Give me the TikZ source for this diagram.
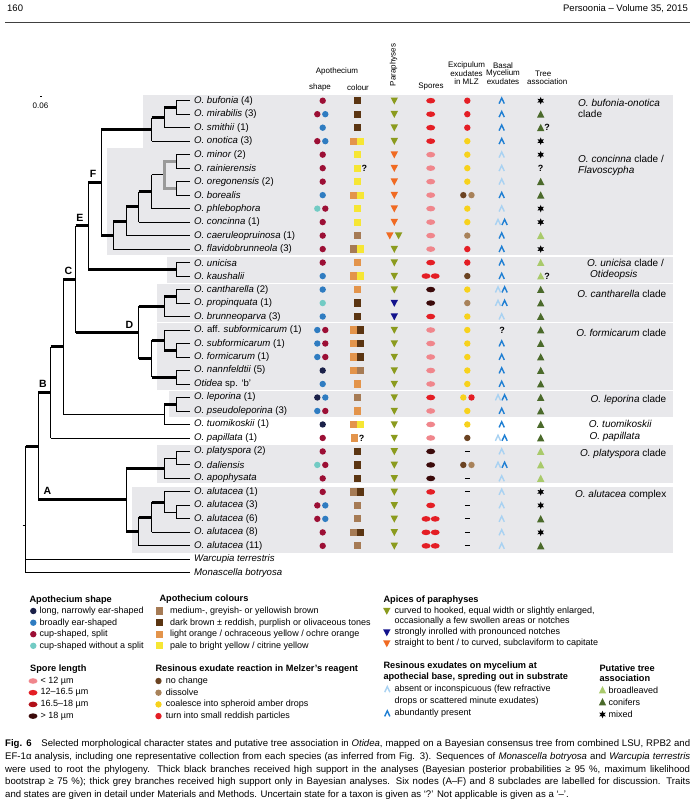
\documentclass[tikz,border=0pt]{standalone}
\usepackage{fontspec}
\setmainfont{Liberation Sans}
\usetikzlibrary{shapes.geometric}
\definecolor{bandc}{HTML}{E8E8EB}
\definecolor{cC}{HTML}{9C0F35}
\definecolor{cB}{HTML}{2F7CC1}
\definecolor{cN}{HTML}{1B2149}
\definecolor{cT}{HTML}{72CBC4}
\definecolor{kM}{HTML}{A67B55}
\definecolor{kD}{HTML}{5B3512}
\definecolor{kL}{HTML}{E3944B}
\definecolor{kY}{HTML}{F6E634}
\definecolor{pO}{HTML}{8B9B1E}
\definecolor{pN}{HTML}{12128C}
\definecolor{pR}{HTML}{F06A22}
\definecolor{sP}{HTML}{F0868C}
\definecolor{sR}{HTML}{E41E25}
\definecolor{sD}{HTML}{B21019}
\definecolor{sK}{HTML}{3B0A0A}
\definecolor{eN}{HTML}{6B4322}
\definecolor{eD}{HTML}{A8825A}
\definecolor{eY}{HTML}{F7D21C}
\definecolor{eR}{HTML}{E41E25}
\definecolor{bL}{HTML}{A9D2F2}
\definecolor{bD}{HTML}{1F7FD3}
\definecolor{tL}{HTML}{A9CA6B}
\definecolor{tD}{HTML}{4B6A2B}
\definecolor{brG}{HTML}{9A9A9A}
\newcommand\SetRow[1]{\pgfmathsetmacro\Y{100.7+13.49*(#1)}}
\newcommand\DotAt[3]{\fill[#3] (#1,#2) circle (3.2);}
\newcommand\SqAt[3]{\fill[#3] ({#1-3.6},{#2-3.6}) rectangle ({#1+3.6},{#2+3.6});}
\newcommand\TriDn[3]{\fill[#3] ({#1-3.7},{#2-3.2}) -- ({#1+3.7},{#2-3.2}) -- (#1,{#2+3.8}) -- cycle;}
\newcommand\TriUp[3]{\fill[#3] ({#1-3.7},{#2+3.4}) -- ({#1+3.7},{#2+3.4}) -- (#1,{#2-3.8}) -- cycle;}
\newcommand\EllAt[3]{\fill[#3] (#1,#2) ellipse [x radius=4.5, y radius=2.8];}
\newcommand\ChevAt[3]{\draw[#3, line width=1.4pt] ({#1-2.6},{#2+2.9}) -- (#1,{#2-2.7}) -- ({#1+2.6},{#2+2.9});}
\newcommand\StarAt[2]{\node[star, star points=6, star point ratio=2.1, fill=black, inner sep=0pt, minimum size=7.5pt] at (#1,#2) {};}
\newcommand\qSA[1]{\DotAt{322.7}{\Y}{#1}}
\newcommand\qSB[2]{\DotAt{317.3}{\Y}{#1}\DotAt{325.3}{\Y}{#2}}
\newcommand\qCA[1]{\SqAt{357.3}{\Y}{#1}}
\newcommand\qCB[2]{\SqAt{353.6}{\Y}{#1}\SqAt{360.8}{\Y}{#2}}
\newcommand\qPA[1]{\TriDn{394.3}{\Y}{#1}}
\newcommand\qPB[2]{\TriDn{389.8}{\Y}{#1}\TriDn{398.6}{\Y}{#2}}
\newcommand\qEA[1]{\EllAt{430.7}{\Y}{#1}}
\newcommand\qEB[2]{\EllAt{426.0}{\Y}{#1}\EllAt{435.2}{\Y}{#2}}
\newcommand\qXA[1]{\DotAt{467.3}{\Y}{#1}}
\newcommand\qXB[2]{\DotAt{463.3}{\Y}{#1}\DotAt{471.5}{\Y}{#2}}
\newcommand\qXN{\draw[line width=1.1pt] (464.9,\Y) -- (469.7,\Y);}
\newcommand\qBA[1]{\ChevAt{501.7}{\Y}{#1}}
\newcommand\qBB{\ChevAt{498.0}{\Y}{bL}\ChevAt{504.6}{\Y}{bD}}
\newcommand\qBQ{\node[qm] at (502,\Y) {?};}
\newcommand\qTA[1]{\TriUp{540.7}{\Y}{#1}}
\newcommand\qTX{\StarAt{540.7}{\Y}}
\newcommand\qTQ{\node[qm] at (540.7,\Y) {?};}
\newcommand\qTQa{\node[qm, anchor=west, inner sep=0pt] at (544.2,\Y) {?};}
\newcommand\brH[4]{\draw[#4] (#2,#1) -- (#3,#1);}
\newcommand\brV[3]{\draw[tn] (#1,#2) -- (#1,#3);}
\begin{document}
\begin{tikzpicture}[x=1pt,y=-1pt,
  tn/.style={line width=0.9pt, black, line cap=butt},
  tk/.style={line width=3pt, black, line cap=butt},
  tg/.style={line width=3pt, brG, line cap=butt},
  tax/.style={anchor=west, inner sep=0pt, font=\fontsize{9.6}{11}\selectfont},
  cl/.style={inner sep=0pt, font=\fontsize{10}{11.5}\selectfont},
  hd/.style={inner sep=0pt, font=\fontsize{8}{9}\selectfont},
  qm/.style={inner sep=0pt, font=\fontsize{9}{10}\selectfont\bfseries},
  lg/.style={anchor=west, inner sep=0pt, font=\fontsize{9}{10.5}\selectfont},
  lh/.style={anchor=west, inner sep=0pt, font=\fontsize{9.2}{10.5}\selectfont\bfseries}]
\path[use as bounding box, fill=white] (0,0) rectangle (697,800);
% page header
\node[anchor=west, inner sep=0pt, font=\fontsize{9.5}{11}\selectfont] (pnum) at (7,8.5) {160};
\node[anchor=east, inner sep=0pt, font=\fontsize{9.5}{11}\selectfont] (jrnl) at (688,8.5) {Persoonia – Volume 35, 2015};
\draw[line width=1.2pt, black!75] (5,22.5) -- (690,22.5);
% bands
\fill[bandc] (143.3,95) rectangle (673,147.8);
\fill[bandc] (107.3,147.8) rectangle (673,254.6);
\fill[bandc] (167.3,256.6) rectangle (673,282.8);
\fill[bandc] (156.7,284.4) rectangle (673,321.7);
\fill[bandc] (156.7,323.3) rectangle (673,389.6);
\fill[bandc] (169.3,391.2) rectangle (673,416.8);
\fill[bandc] (156.7,445) rectangle (673,483.3);
\fill[bandc] (131.7,486.7) rectangle (673,552.7);
% column headers
\node[hd] (hApo) at (337,71) {Apothecium};
\node[hd] (hShape) at (320,87.5) {shape};
\node[hd] (hCol) at (358,87.5) {colour};
\node[hd, rotate=90] (hPar) at (393.5,65) {Paraphyses};
\node[hd] (hSpo) at (431,86.5) {Spores};
\node[hd] (hEx1) at (466.5,65.5) {Excipulum};
\node[hd] (hEx2) at (466.5,73.5) {exudates};
\node[hd] (hEx3) at (466.5,81.5) {in MLZ};
\node[hd] (hBa1) at (503,65.5) {Basal};
\node[hd] (hBa2) at (503,73.5) {Mycelium};
\node[hd] (hBa3) at (503,81.5) {exudates};
\node[hd, anchor=west] (hTr1) at (535,73.5) {Tree};
\node[hd, anchor=west] (hTr2) at (527,81.5) {association};
% scale
\draw[line width=1pt] (40,96.5) -- (42,96.5);
\node[hd] (scale) at (40.5,105.5) {0.06};
\draw[line width=0.8pt] (22.5,525) -- (25.7,525);
% ---------- tree ----------
\def\xa{25.7}\def\xb{38.3}\def\xc{50.7}\def\xd{63.3}\def\xe{75.7}\def\xf{88.3}
\def\xg{101}\def\xh{113.3}\def\xi{126.3}\def\xj{138.7}\def\xk{151.7}\def\xl{164.2}\def\xm{176}\def\xt{190}
% root
\brV{\xa}{446.14}{572.85}
\brH{446.14}{\xa}{\xb}{tk}
\brH{559.36}{\xa}{\xt}{tn}
\brH{572.85}{\xa}{\xt}{tn}
\brV{\xb}{392.36}{499.92}
\brH{392.36}{\xb}{\xc}{tk}
\brH{499.92}{\xb}{\xi}{tk}
\brV{\xc}{346.76}{437.95}
\brH{346.76}{\xc}{\xd}{tk}
\brH{437.95}{\xc}{\xt}{tn}
\brV{\xd}{279.18}{414.34}
\brH{279.18}{\xd}{\xe}{tk}
\brH{414.34}{\xd}{\xl}{tn}
\brV{\xe}{225.80}{332.56}
\brH{225.80}{\xe}{\xf}{tk}
\brH{332.56}{\xe}{\xj}{tk}
\brV{\xf}{182.28}{269.33}
\brH{182.28}{\xf}{\xg}{tk}
\brH{269.33}{\xf}{\xm}{tk}
\brV{\xg}{129.37}{235.18}
\brH{129.37}{\xg}{\xk}{tk}
\brH{235.18}{\xg}{\xh}{tk}
% bufonia-onotica
\brV{\xk}{117.56}{141.17}
\brH{117.56}{\xk}{\xl}{tk}
\brH{141.17}{\xk}{\xt}{tn}
\brV{\xl}{107.45}{127.68}
\brH{107.45}{\xl}{\xm}{tk}
\brH{127.68}{\xl}{\xt}{tn}
\brV{\xm}{100.70}{114.19}
\brH{100.70}{\xm}{\xt}{tn}
\brH{114.19}{\xm}{\xt}{tn}
% concinna clade
\brV{\xh}{221.27}{249.09}
\brH{221.27}{\xh}{\xi}{tk}
\brH{249.09}{\xh}{\xt}{tn}
\brV{\xi}{206.94}{235.60}
\brH{206.94}{\xi}{\xj}{tk}
\brH{235.60}{\xi}{\xt}{tn}
\brV{\xj}{191.76}{222.11}
\brH{191.76}{\xj}{\xk}{tk}
\brH{222.11}{\xj}{\xt}{tn}
\brV{\xk}{174.90}{208.62}
\brH{174.90}{\xk}{\xl}{tn}
\brH{208.62}{\xk}{\xt}{tn}
\draw[tg] (\xl,160) -- (\xl,189.9);
\brH{161.41}{\xl}{\xm}{tg}
\brH{188.39}{\xl}{\xm}{tg}
\brV{\xm}{154.66}{168.15}
\brH{154.66}{\xm}{\xt}{tn}
\brH{168.15}{\xm}{\xt}{tn}
\brV{\xm}{181.64}{195.13}
\brH{181.64}{\xm}{\xt}{tn}
\brH{195.13}{\xm}{\xt}{tn}
% unicisa
\brV{\xm}{262.58}{276.07}
\brH{262.58}{\xm}{\xt}{tn}
\brH{276.07}{\xm}{\xt}{tn}
% D
\brV{\xj}{306.42}{358.70}
\brH{306.42}{\xj}{\xl}{tk}
\brH{358.70}{\xj}{\xk}{tk}
\brV{\xl}{296.31}{316.54}
\brH{296.31}{\xl}{\xm}{tk}
\brH{316.54}{\xl}{\xt}{tn}
\brV{\xm}{289.56}{303.05}
\brH{289.56}{\xm}{\xt}{tn}
\brH{303.05}{\xm}{\xt}{tn}
\brV{\xk}{340.15}{377.25}
\brH{340.15}{\xk}{\xl}{tk}
\brH{377.25}{\xk}{\xm}{tk}
\brV{\xl}{330.03}{350.27}
\brH{330.03}{\xl}{\xt}{tn}
\brH{350.27}{\xl}{\xm}{tk}
\brV{\xm}{343.52}{357.01}
\brH{343.52}{\xm}{\xt}{tn}
\brH{357.01}{\xm}{\xt}{tn}
\brV{\xm}{370.50}{383.99}
\brH{370.50}{\xm}{\xt}{tn}
\brH{383.99}{\xm}{\xt}{tn}
% leporina
\brV{\xl}{404.23}{424.46}
\brH{404.23}{\xl}{\xm}{tk}
\brH{424.46}{\xl}{\xt}{tn}
\brV{\xm}{397.48}{410.97}
\brH{397.48}{\xm}{\xt}{tn}
\brH{410.97}{\xm}{\xt}{tn}
% A
\brV{\xi}{468.30}{531.54}
\brH{468.30}{\xi}{\xl}{tk}
\brH{531.54}{\xi}{\xj}{tk}
\brV{\xl}{458.19}{478.42}
\brH{458.19}{\xl}{\xm}{tn}
\brH{478.42}{\xl}{\xt}{tn}
\brV{\xm}{451.44}{464.93}
\brH{451.44}{\xm}{\xt}{tn}
\brH{464.93}{\xm}{\xt}{tn}
\brV{\xj}{517.21}{545.87}
\brH{517.21}{\xj}{\xk}{tk}
\brH{545.87}{\xj}{\xt}{tn}
\brV{\xk}{502.03}{532.38}
\brH{502.03}{\xk}{\xl}{tk}
\brH{532.38}{\xk}{\xt}{tn}
\brV{\xl}{491.91}{512.15}
\brH{491.91}{\xl}{\xt}{tn}
\brH{512.15}{\xl}{\xm}{tn}
\brV{\xm}{505.40}{518.89}
\brH{505.40}{\xm}{\xt}{tn}
\brH{518.89}{\xm}{\xt}{tn}
% node letters
\node[inner sep=0pt, font=\fontsize{10.5}{12}\selectfont\bfseries] (lA) at (47.5,490.5) {A};
\node[inner sep=0pt, font=\fontsize{10.5}{12}\selectfont\bfseries] (lB) at (43,383.5) {B};
\node[inner sep=0pt, font=\fontsize{10.5}{12}\selectfont\bfseries] (lC) at (68.5,271) {C};
\node[inner sep=0pt, font=\fontsize{10.5}{12}\selectfont\bfseries] (lD) at (129.5,324.5) {D};
\node[inner sep=0pt, font=\fontsize{10.5}{12}\selectfont\bfseries] (lE) at (80,217.5) {E};
\node[inner sep=0pt, font=\fontsize{10.5}{12}\selectfont\bfseries] (lF) at (93,174) {F};
% ---------- taxa labels ----------
\SetRow{0}\node[tax] (t0) at (194,\Y) {\textit{O. bufonia} (4)};
\SetRow{1}\node[tax] (t1) at (194,\Y) {\textit{O. mirabilis} (3)};
\SetRow{2}\node[tax] (t2) at (194,\Y) {\textit{O. smithii} (1)};
\SetRow{3}\node[tax] (t3) at (194,\Y) {\textit{O. onotica} (3)};
\SetRow{4}\node[tax] (t4) at (194,\Y) {\textit{O. minor} (2)};
\SetRow{5}\node[tax] (t5) at (194,\Y) {\textit{O. rainierensis}};
\SetRow{6}\node[tax] (t6) at (194,\Y) {\textit{O. oregonensis} (2)};
\SetRow{7}\node[tax] (t7) at (194,\Y) {\textit{O. borealis}};
\SetRow{8}\node[tax] (t8) at (194,\Y) {\textit{O. phlebophora}};
\SetRow{9}\node[tax] (t9) at (194,\Y) {\textit{O. concinna} (1)};
\SetRow{10}\node[tax] (t10) at (194,\Y) {\textit{O. caeruleopruinosa} (1)};
\SetRow{11}\node[tax] (t11) at (194,\Y) {\textit{O. flavidobrunneola} (3)};
\SetRow{12}\node[tax] (t12) at (194,\Y) {\textit{O. unicisa}};
\SetRow{13}\node[tax] (t13) at (194,\Y) {\textit{O. kaushalii}};
\SetRow{14}\node[tax] (t14) at (194,\Y) {\textit{O. cantharella} (2)};
\SetRow{15}\node[tax] (t15) at (194,\Y) {\textit{O. propinquata} (1)};
\SetRow{16}\node[tax] (t16) at (194,\Y) {\textit{O. brunneoparva} (3)};
\SetRow{17}\node[tax] (t17) at (194,\Y) {\textit{O.} aff. \textit{subformicarum} (1)};
\SetRow{18}\node[tax] (t18) at (194,\Y) {\textit{O. subformicarum} (1)};
\SetRow{19}\node[tax] (t19) at (194,\Y) {\textit{O. formicarum} (1)};
\SetRow{20}\node[tax] (t20) at (194,\Y) {\textit{O. nannfeldtii} (5)};
\SetRow{21}\node[tax] (t21) at (194,\Y) {\textit{Otidea} sp. ‘b’};
\SetRow{22}\node[tax] (t22) at (194,\Y) {\textit{O. leporina} (1)};
\SetRow{23}\node[tax] (t23) at (194,\Y) {\textit{O. pseudoleporina} (3)};
\SetRow{24}\node[tax] (t24) at (194,\Y) {\textit{O. tuomikoskii} (1)};
\SetRow{25}\node[tax] (t25) at (194,\Y) {\textit{O. papillata} (1)};
\SetRow{26}\node[tax] (t26) at (194,\Y) {\textit{O. platyspora} (2)};
\SetRow{27}\node[tax] (t27) at (194,\Y) {\textit{O. daliensis}};
\SetRow{28}\node[tax] (t28) at (194,\Y) {\textit{O. apophysata}};
\SetRow{29}\node[tax] (t29) at (194,\Y) {\textit{O. alutacea} (1)};
\SetRow{30}\node[tax] (t30) at (194,\Y) {\textit{O. alutacea} (3)};
\SetRow{31}\node[tax] (t31) at (194,\Y) {\textit{O. alutacea} (6)};
\SetRow{32}\node[tax] (t32) at (194,\Y) {\textit{O. alutacea} (8)};
\SetRow{33}\node[tax] (t33) at (194,\Y) {\textit{O. alutacea} (11)};
\SetRow{34}\node[tax] (t34) at (194,\Y) {\textit{Warcupia terrestris}};
\SetRow{35}\node[tax] (t35) at (194,\Y) {\textit{Monascella botryosa}};
% ---------- character matrix ----------
\SetRow{0}\qSA{cC}\qCA{kD}\qPA{pO}\qEA{sR}\qXA{eR}\qBA{bD}\qTX
\SetRow{1}\qSB{cC}{cB}\qCA{kD}\qPA{pO}\qEA{sR}\qXA{eR}\qBA{bD}\qTA{tD}
\SetRow{2}\qSA{cB}\qCA{kD}\qPA{pO}\qEA{sR}\qXA{eR}\qBA{bD}\qTA{tD}\qTQa
\SetRow{3}\qSB{cC}{cB}\qCB{kL}{kY}\qPA{pO}\qEA{sR}\qXA{eY}\qBA{bD}\qTX
\SetRow{4}\qSA{cC}\qCA{kY}\qPA{pR}\qEA{sP}\qXA{eY}\qBA{bL}\qTX
\SetRow{5}\qSA{cC}\qCA{kY}\node[qm, anchor=west] at (361.3,\Y) {?};\qPA{pR}\qEA{sP}\qXA{eY}\qBA{bL}\qTQ
\SetRow{6}\qSA{cC}\qCA{kY}\qPA{pR}\qEA{sP}\qXA{eY}\qBA{bL}\qTA{tD}
\SetRow{7}\qSA{cB}\qCB{kL}{kY}\qPA{pR}\qEA{sP}\qXB{eN}{eD}\qBA{bD}\qTA{tD}
\SetRow{8}\qSB{cT}{cC}\qCA{kY}\qPA{pR}\qEA{sP}\qXA{eY}\qBA{bL}\qTX
\SetRow{9}\qSA{cC}\qCA{kY}\qPA{pR}\qEA{sP}\qXA{eY}\qBB\qTX
\SetRow{10}\qSA{cC}\qCA{kM}\qPB{pR}{pO}\qEA{sP}\qXA{eD}\qBA{bD}\qTA{tL}
\SetRow{11}\qSA{cC}\qCB{kM}{kY}\qPA{pO}\qEA{sP}\qXA{eR}\qBA{bD}\qTX
\SetRow{12}\qSA{cC}\qCA{kL}\qPA{pO}\qEA{sR}\qXA{eR}\qBA{bD}\qTA{tL}
\SetRow{13}\qSA{cB}\qCB{kL}{kY}\qPA{pO}\qEB{sR}{sR}\qXA{eN}\qBA{bD}\qTA{tL}\qTQa
\SetRow{14}\qSA{cB}\qCA{kL}\qPA{pO}\qEA{sK}\qXA{eY}\qBB\qTA{tD}
\SetRow{15}\qSA{cT}\qCA{kD}\qPA{pN}\qEA{sK}\qXA{eD}\qBB\qTA{tD}
\SetRow{16}\qSA{cB}\qCA{kD}\qPA{pN}\qEA{sR}\qXA{eY}\qBA{bL}\qTA{tD}
\SetRow{17}\qSB{cB}{cC}\qCB{kL}{kD}\qPA{pO}\qEA{sP}\qXA{eY}\qBQ\qTA{tD}
\SetRow{18}\qSB{cB}{cC}\qCB{kL}{kD}\qPA{pO}\qEA{sP}\qXA{eY}\qBA{bD}\qTA{tD}
\SetRow{19}\qSB{cB}{cC}\qCB{kL}{kD}\qPA{pO}\qEA{sP}\qXA{eY}\qBA{bD}\qTA{tD}
\SetRow{20}\qSA{cN}\qCB{kL}{kM}\qPA{pO}\qEA{sP}\qXA{eY}\qBA{bD}\qTA{tD}
\SetRow{21}\qSA{cB}\qCA{kL}\qPA{pO}\qEA{sP}\qXA{eY}\qBA{bD}\qTA{tD}
\SetRow{22}\qSB{cN}{cB}\qCA{kM}\qPA{pO}\qEA{sR}\qXB{eY}{eR}\qBB\qTA{tD}
\SetRow{23}\qSB{cB}{cC}\qCA{kL}\qPA{pO}\qEA{sP}\qXA{eY}\qBA{bD}\qTA{tD}
\SetRow{24}\qSA{cN}\qCB{kL}{kY}\qPA{pO}\qEA{sP}\qXA{eY}\qBA{bD}\qTA{tD}
\SetRow{25}\qSA{cC}\SqAt{354.6}{\Y}{kL}\node[qm, anchor=west] at (358.6,\Y) {?};\qPA{pO}\qEA{sP}\qXA{eN}\qBB\qTA{tD}
\SetRow{26}\qSA{cC}\qCA{kD}\qPA{pO}\qEA{sK}\qXN\qBA{bL}\qTA{tL}
\SetRow{27}\qSB{cT}{cC}\qCA{kD}\qPA{pO}\qEA{sK}\qXB{eN}{eD}\qBB\qTA{tL}
\SetRow{28}\qSA{cC}\qCA{kD}\qPA{pO}\qEA{sK}\qXN\qBA{bL}\qTA{tL}
\SetRow{29}\qSA{cC}\qCB{kM}{kD}\qPA{pO}\qEA{sR}\qXN\qBA{bL}\qTX
\SetRow{30}\qSB{cC}{cB}\qCA{kM}\qPA{pO}\qEA{sR}\qXN\qBA{bL}\qTX
\SetRow{31}\qSB{cC}{cB}\qCA{kM}\qPA{pO}\qEB{sR}{sR}\qXN\qBA{bL}\qTA{tD}
\SetRow{32}\qSA{cC}\qCB{kM}{kD}\qPA{pO}\qEB{sR}{sR}\qXN\qBA{bL}\qTX
\SetRow{33}\qSA{cC}\qCA{kM}\qPA{pO}\qEB{sR}{sR}\qXN\qBA{bL}\qTA{tD}
% ---------- clade labels ----------
\node[cl, anchor=north west, align=left] (c1) at (578,99) {\textit{O. bufonia-onotica}\\clade};
\node[cl, anchor=north west, align=left] (c2) at (578,155) {\textit{O. concinna} clade /\\\textit{Flavoscypha}};
\node[cl, anchor=east] (c3) at (664,262.8) {\textit{O. unicisa} clade /};
\node[cl, anchor=west] (c3b) at (590,274.6) {\textit{Otideopsis}};
\node[cl, anchor=east] (c4) at (666.5,293.5) {\textit{O. cantharella} clade};
\node[cl, anchor=east] (c5) at (666.5,332.5) {\textit{O. formicarum} clade};
\node[cl, anchor=east] (c6) at (666.5,400) {\textit{O. leporina} clade};
\node[cl, anchor=west] (c7) at (588.7,423.5) {\textit{O. tuomikoskii}};
\node[cl, anchor=west] (c8) at (589.3,437.3) {\textit{O. papillata}};
\node[cl, anchor=east] (c9) at (666.5,453.5) {\textit{O. platyspora} clade};
\node[cl, anchor=east] (c10) at (666.5,494.5) {\textit{O. alutacea} complex};
% ---------- legend ----------
\node[lh] (L1) at (29.3,600) {Apothecium shape};
\DotAt{33.3}{611}{cN}\node[lg] (L1a) at (39.5,611) {long, narrowly ear-shaped};
\DotAt{33.3}{622.7}{cB}\node[lg] (L1b) at (39.5,622.7) {broadly ear-shaped};
\DotAt{33.3}{634.2}{cC}\node[lg] (L1c) at (39.5,634.2) {cup-shaped, split};
\DotAt{33.3}{645.8}{cT}\node[lg] (L1d) at (39.5,645.8) {cup-shaped without a split};
\node[lh] (L2) at (30,669.5) {Spore length};
\EllAt{33}{681}{sP}\node[lg] (L2a) at (40.5,681) {< 12 µm};
\EllAt{33}{692.7}{sR}\node[lg] (L2b) at (40.5,692.7) {12–16.5 µm};
\EllAt{33}{704.4}{sD}\node[lg] (L2c) at (40.5,704.4) {16.5–18 µm};
\EllAt{33}{716.1}{sK}\node[lg] (L2d) at (40.5,716.1) {> 18 µm};
\node[lh] (L3) at (159.3,599.5) {Apothecium colours};
\SqAt{159.5}{611}{kM}\node[lg] (L3a) at (170,611) {medium-, greyish- or yellowish brown};
\SqAt{159.5}{622.7}{kD}\node[lg] (L3b) at (170,622.7) {dark brown ± reddish, purplish or olivaceous tones};
\SqAt{159.5}{634.2}{kL}\node[lg] (L3c) at (170,634.2) {light orange / ochraceous yellow / ochre orange};
\SqAt{159.5}{645.8}{kY}\node[lg] (L3d) at (170,645.8) {pale to bright yellow / citrine yellow};
\node[lh] (L4) at (155.3,669.5) {Resinous exudate reaction in Melzer’s reagent};
\DotAt{158.5}{681}{eN}\node[lg] (L4a) at (165.7,681) {no change};
\DotAt{158.5}{692.7}{eD}\node[lg] (L4b) at (165.7,692.7) {dissolve};
\DotAt{158.5}{704.4}{eY}\node[lg] (L4c) at (165.7,704.4) {coalesce into spheroid amber drops};
\DotAt{158.5}{716.1}{eR}\node[lg] (L4d) at (165.7,716.1) {turn into small reddish particles};
\node[lh] (L5) at (383.3,600) {Apices of paraphyses};
\TriDn{386.8}{611}{pO}\node[lg] (L5a) at (394.3,611) {curved to hooked, equal width or slightly enlarged,};
\node[lg] (L5a2) at (394.3,621.3) {occasionally a few swollen areas or notches};
\TriDn{386.8}{632.5}{pN}\node[lg] (L5b) at (394.3,632.5) {strongly inrolled with pronounced notches};
\TriDn{386.8}{643.5}{pR}\node[lg] (L5c) at (394.3,643.5) {straight to bent / to curved, subclaviform to capitate};
\node[lh] (L6) at (383.3,665.8) {Resinous exudates on mycelium at};
\node[lh] (L6b) at (383.3,677.4) {apothecial base, spreding out in substrate};
\ChevAt{387.3}{689.3}{bL}\node[lg] (L6a) at (394.3,689.3) {absent or inconspicuous (few refractive};
\node[lg] (L6a2) at (394.3,700.7) {drops or scattered minute exudates)};
\ChevAt{387.3}{713.5}{bD}\node[lg] (L6c) at (394.3,713.5) {abundantly present};
\node[lh] (L7) at (599.3,668.4) {Putative tree};
\node[lh] (L7b) at (599.3,677.8) {association};
\TriUp{602.5}{690}{tL}\node[lg] (L7c) at (608.5,690) {broadleaved};
\TriUp{602.5}{702}{tD}\node[lg] (L7d) at (608.5,702) {conifers};
\StarAt{602.5}{714.5}\node[lg] (L7e) at (608.5,714.5) {mixed};
% ---------- caption ----------
\begin{scope}[every node/.style={anchor=west, inner sep=0pt, font=\fontsize{9.6}{11}\selectfont}]
\node (cap1) at (5,744) {\makebox[685pt][s]{\textbf{Fig. 6}\quad Selected morphological character states and putative tree association in \textit{Otidea}, mapped on a Bayesian consensus tree from combined LSU, RPB2 and}};
\node (cap2) at (5,756.8) {\makebox[685pt][s]{EF-1α analysis, including one representative collection from each species (as inferred from Fig. 3). Sequences of \textit{Monascella botryosa} and \textit{Warcupia terrestris}}};
\node (cap3) at (5,769.6) {\makebox[685pt][s]{were used to root the phylogeny. Thick black branches received high support in the analyses (Bayesian posterior probabilities ≥ 95 \%, maximum likelihood}};
\node (cap4) at (5,782.4) {\makebox[685pt][s]{bootstrap ≥ 75 \%); thick grey branches received high support only in Bayesian analyses. Six nodes (A–F) and 8 subclades are labelled for discussion. Traits}};
\node (cap5) at (5,795.2) {and states are given in detail under Materials and Methods. Uncertain state for a taxon is given as ‘?’ Not applicable is given as a ‘–’.};
\end{scope}
\end{tikzpicture}
\end{document}
